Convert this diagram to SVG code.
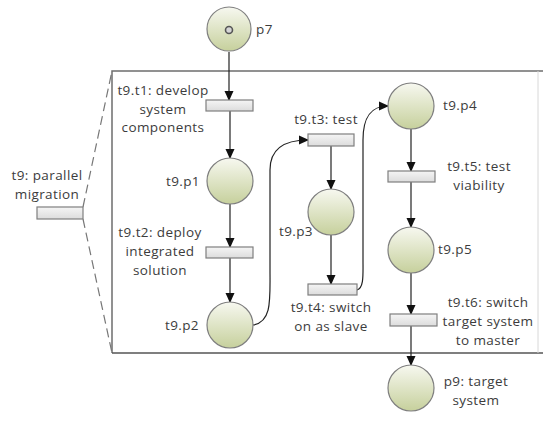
<svg xmlns="http://www.w3.org/2000/svg" width="543" height="422" viewBox="0 0 543 422">
<defs>
<linearGradient id="gp" x1="0" y1="0" x2="0" y2="1">
<stop offset="0" stop-color="#f7f8f0"/>
<stop offset="1" stop-color="#c6d09c"/>
</linearGradient>
<linearGradient id="gt" x1="0" y1="0" x2="0" y2="1">
<stop offset="0" stop-color="#f5f5f5"/>
<stop offset="1" stop-color="#dcdcdc"/>
</linearGradient>
<marker id="ah" markerWidth="10" markerHeight="10" refX="9" refY="5" orient="auto" markerUnits="userSpaceOnUse">
<path d="M0,0.5 L10,5 L0,9.5 Z" fill="#111"/>
</marker>
</defs>
<style>
.pl{fill:url(#gp);stroke:#7f7f7f;stroke-width:1.2}
.tr{fill:url(#gt);stroke:#7f7f7f;stroke-width:1.2}
.lb{font-family:"Open Sans","Liberation Sans",sans-serif;font-size:13.5px;letter-spacing:0.4px;fill:#3c3c3c}
.c{text-anchor:middle}
.r{text-anchor:end}
.e{fill:none;stroke:#222;stroke-width:1.2;marker-end:url(#ah)}
.bx{fill:none;stroke:#6e6e6e;stroke-width:1.5}
.dash{fill:none;stroke:#777;stroke-width:1.2;stroke-dasharray:9,5}
</style>
<rect width="543" height="422" fill="#fff"/>
<g id="subnet-box">
<path class="bx" d="M112,353 L112,71 L543,71"/>
<path d="M112,353 L543,353" fill="none" stroke="#555" stroke-width="1.3"/>
<path d="M538,71 L538,353" fill="none" stroke="#d8d8d8" stroke-width="1"/>
<path class="dash" d="M83,207 L112,71"/>
<path class="dash" d="M83,219 L112,353"/>
</g>
<g id="connectors">
<path class="e" d="M229,52 L229,100"/>
<path class="e" d="M230,111 L230,158"/>
<path class="e" d="M230,204 L230,247"/>
<path class="e" d="M230,258 L230,302"/>
<path class="e" d="M253,325 C272,322 270,300 270,270 L270,170 C270,150 282,140 308,140"/>
<path class="e" d="M331,146 L331,189"/>
<path class="e" d="M331,235 L331,284"/>
<path class="e" d="M357,290 C364,288 363,275 363,260 L363,140 C363,118 370,106 388,106"/>
<path class="e" d="M411,129 L411,171"/>
<path class="e" d="M411,182 L411,227"/>
<path class="e" d="M411,273 L411,314"/>
<path class="e" d="M411,326 L411,365"/>
</g>
<g id="p7">
<circle class="pl" cx="229" cy="29" r="22"/>
<circle cx="229" cy="30" r="3.5" fill="#d5d5d5" stroke="#555" stroke-width="1.6"/>
<text class="lb" x="256" y="34">p7</text>
</g>
<g id="t9">
<rect class="tr" x="37" y="207" width="46" height="12"/>
<text class="lb c" x="47" y="180">t9: parallel</text>
<text class="lb c" x="47" y="199">migration</text>
</g>
<g id="t9.t1">
<rect class="tr" x="206" y="100" width="47" height="11"/>
<text class="lb c" x="163" y="95">t9.t1: develop</text>
<text class="lb c" x="163" y="114">system</text>
<text class="lb c" x="163" y="132">components</text>
</g>
<g id="t9.p1">
<circle class="pl" cx="230" cy="181" r="23"/>
<text class="lb r" x="200" y="186">t9.p1</text>
</g>
<g id="t9.t2">
<rect class="tr" x="206" y="247" width="47" height="11"/>
<text class="lb c" x="160" y="237">t9.t2: deploy</text>
<text class="lb c" x="160" y="256">integrated</text>
<text class="lb c" x="160" y="275">solution</text>
</g>
<g id="t9.p2">
<circle class="pl" cx="230" cy="325" r="23"/>
<text class="lb r" x="199" y="330">t9.p2</text>
</g>
<g id="t9.t3">
<rect class="tr" x="308" y="134" width="46" height="12"/>
<text class="lb c" x="326" y="124">t9.t3: test</text>
</g>
<g id="t9.p3">
<circle class="pl" cx="331" cy="212" r="23"/>
<text class="lb r" x="313" y="236">t9.p3</text>
</g>
<g id="t9.t4">
<rect class="tr" x="308" y="284" width="49" height="11"/>
<text class="lb c" x="331" y="312">t9.t4: switch</text>
<text class="lb c" x="331" y="331">on as slave</text>
</g>
<g id="t9.p4">
<circle class="pl" cx="411" cy="106" r="23"/>
<text class="lb" x="443" y="110">t9.p4</text>
</g>
<g id="t9.t5">
<rect class="tr" x="388" y="171" width="47" height="11"/>
<text class="lb c" x="479" y="171">t9.t5: test</text>
<text class="lb c" x="479" y="190">viability</text>
</g>
<g id="t9.p5">
<circle class="pl" cx="411" cy="250" r="23"/>
<text class="lb" x="438" y="254">t9.p5</text>
</g>
<g id="t9.t6">
<rect class="tr" x="390" y="314" width="47" height="12"/>
<text class="lb c" x="488" y="307">t9.t6: switch</text>
<text class="lb c" x="488" y="326">target system</text>
<text class="lb c" x="488" y="345">to master</text>
</g>
<g id="p9">
<circle class="pl" cx="411" cy="388" r="23"/>
<text class="lb c" x="476" y="386">p9: target</text>
<text class="lb c" x="476" y="405">system</text>
</g>
</svg>
